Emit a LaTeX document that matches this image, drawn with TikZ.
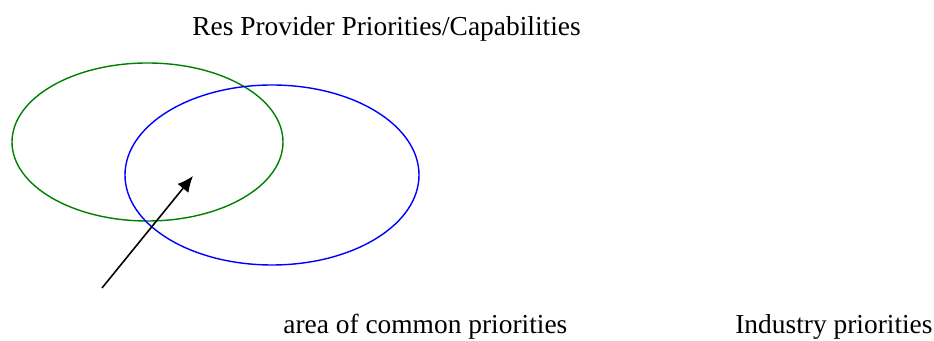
\documentclass[tikz,border=0pt]{standalone}
\usepackage{fontspec}
\setmainfont{Liberation Serif}
\usepackage{tikz}
\usetikzlibrary{arrows.meta,positioning,shapes.geometric}
\definecolor{setgreen}{RGB}{0,128,0}
\definecolor{setblue}{RGB}{0,0,255}
\tikzset{
  venn-set/.style={ellipse, draw, line width=0.8pt, inner sep=0pt, fill=none},
  venn-label/.style={font=\fontsize{15.6}{18}\selectfont, inner sep=0pt, anchor=base west}
}

\begin{document}
\begin{tikzpicture}[>=Latex]
  \useasboundingbox (0,0) rectangle (18.68,6.82);
  \node[venn-set, draw=setgreen, minimum width=5.42cm, minimum height=3.16cm] (provider) at (2.95,3.98) {};
  \node[venn-set, draw=setblue, minimum width=5.88cm, minimum height=3.60cm] (industry) at (5.44,3.32) {};
  \node[venn-label] (provider-label) at (3.84,6.10) {Res Provider Priorities/Capabilities};
  \node[venn-label] (common-label) at (5.66,0.14) {area of common priorities};
  \node[venn-label] (industry-label) at (14.70,0.14) {Industry priorities};
  \coordinate (common-tail) at (2.04,1.06);
  \coordinate (common-tip) at (3.86,3.30);
  \draw[-{Latex[length=9pt, width=8pt]}, line width=0.9pt] (common-tail) -- (common-tip);
\end{tikzpicture}
\end{document}
